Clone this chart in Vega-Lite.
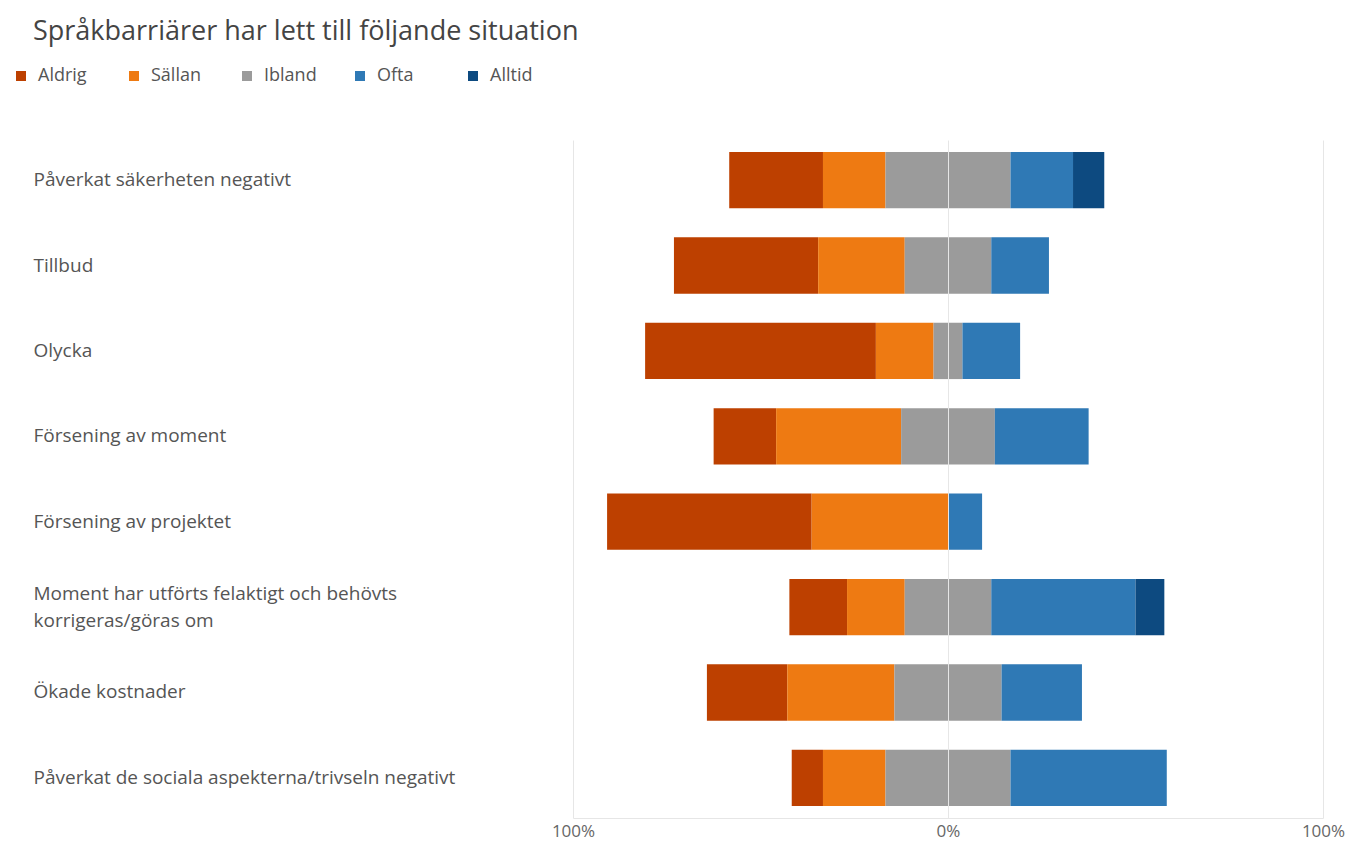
{
  "$schema": "https://vega.github.io/schema/vega-lite/v6.json",
  "width": 750,
  "height": 678,
  "autosize": "none",
  "padding": {"left": 573, "top": 140, "right": 27, "bottom": 27},
  "background": "white",
  "config": {"view": {"stroke": null}},
  "title": {
    "text": "Språkbarriärer har lett till följande situation",
    "anchor": "start",
    "frame": "group",
    "dx": -540,
    "offset": 21,
    "fontSize": 27,
    "font": "Open Sans",
    "fontWeight": "normal",
    "color": "#444444"
  },
  "data": {
    "values": [
      {"q": "Påverkat säkerheten negativt", "resp": "Aldrig", "code": 1, "pct": -25.0},
      {"q": "Påverkat säkerheten negativt", "resp": "Sällan", "code": 2, "pct": -16.67},
      {"q": "Påverkat säkerheten negativt", "resp": "Ibland", "code": 3, "pct": -16.67},
      {"q": "Påverkat säkerheten negativt", "resp": "Ibland", "code": 3, "pct": 16.67},
      {"q": "Påverkat säkerheten negativt", "resp": "Ofta", "code": 4, "pct": 16.67},
      {"q": "Påverkat säkerheten negativt", "resp": "Alltid", "code": 5, "pct": 8.33},
      {"q": "Tillbud", "resp": "Aldrig", "code": 1, "pct": -38.46},
      {"q": "Tillbud", "resp": "Sällan", "code": 2, "pct": -23.08},
      {"q": "Tillbud", "resp": "Ibland", "code": 3, "pct": -11.54},
      {"q": "Tillbud", "resp": "Ibland", "code": 3, "pct": 11.54},
      {"q": "Tillbud", "resp": "Ofta", "code": 4, "pct": 15.38},
      {"q": "Olycka", "resp": "Aldrig", "code": 1, "pct": -61.54},
      {"q": "Olycka", "resp": "Sällan", "code": 2, "pct": -15.38},
      {"q": "Olycka", "resp": "Ibland", "code": 3, "pct": -3.85},
      {"q": "Olycka", "resp": "Ibland", "code": 3, "pct": 3.85},
      {"q": "Olycka", "resp": "Ofta", "code": 4, "pct": 15.38},
      {"q": "Försening av moment", "resp": "Aldrig", "code": 1, "pct": -16.67},
      {"q": "Försening av moment", "resp": "Sällan", "code": 2, "pct": -33.33},
      {"q": "Försening av moment", "resp": "Ibland", "code": 3, "pct": -12.5},
      {"q": "Försening av moment", "resp": "Ibland", "code": 3, "pct": 12.5},
      {"q": "Försening av moment", "resp": "Ofta", "code": 4, "pct": 25.0},
      {"q": "Försening av projektet", "resp": "Aldrig", "code": 1, "pct": -54.55},
      {"q": "Försening av projektet", "resp": "Sällan", "code": 2, "pct": -36.36},
      {"q": "Försening av projektet", "resp": "Ofta", "code": 4, "pct": 9.09},
      {"q": "Moment har utförts felaktigt och behövts|korrigeras/göras om", "resp": "Aldrig", "code": 1, "pct": -15.38},
      {"q": "Moment har utförts felaktigt och behövts|korrigeras/göras om", "resp": "Sällan", "code": 2, "pct": -15.38},
      {"q": "Moment har utförts felaktigt och behövts|korrigeras/göras om", "resp": "Ibland", "code": 3, "pct": -11.54},
      {"q": "Moment har utförts felaktigt och behövts|korrigeras/göras om", "resp": "Ibland", "code": 3, "pct": 11.54},
      {"q": "Moment har utförts felaktigt och behövts|korrigeras/göras om", "resp": "Ofta", "code": 4, "pct": 38.46},
      {"q": "Moment har utförts felaktigt och behövts|korrigeras/göras om", "resp": "Alltid", "code": 5, "pct": 7.69},
      {"q": "Ökade kostnader", "resp": "Aldrig", "code": 1, "pct": -21.43},
      {"q": "Ökade kostnader", "resp": "Sällan", "code": 2, "pct": -28.57},
      {"q": "Ökade kostnader", "resp": "Ibland", "code": 3, "pct": -14.29},
      {"q": "Ökade kostnader", "resp": "Ibland", "code": 3, "pct": 14.29},
      {"q": "Ökade kostnader", "resp": "Ofta", "code": 4, "pct": 21.43},
      {"q": "Påverkat de sociala aspekterna/trivseln negativt", "resp": "Aldrig", "code": 1, "pct": -8.33},
      {"q": "Påverkat de sociala aspekterna/trivseln negativt", "resp": "Sällan", "code": 2, "pct": -16.67},
      {"q": "Påverkat de sociala aspekterna/trivseln negativt", "resp": "Ibland", "code": 3, "pct": -16.67},
      {"q": "Påverkat de sociala aspekterna/trivseln negativt", "resp": "Ibland", "code": 3, "pct": 16.67},
      {"q": "Påverkat de sociala aspekterna/trivseln negativt", "resp": "Ofta", "code": 4, "pct": 41.67}
    ]
  },
  "encoding": {
    "y": {
      "field": "q",
      "type": "nominal",
      "sort": [
        "Påverkat säkerheten negativt",
        "Tillbud",
        "Olycka",
        "Försening av moment",
        "Försening av projektet",
        "Moment har utförts felaktigt och behövts|korrigeras/göras om",
        "Ökade kostnader",
        "Påverkat de sociala aspekterna/trivseln negativt"
      ],
      "scale": {"paddingInner": 0.34, "paddingOuter": 0.14},
      "axis": {
        "title": null,
        "domain": false,
        "ticks": false,
        "grid": false,
        "labelAlign": "left",
        "labelPadding": 540,
        "labelLimit": 530,
        "labelFontSize": 19,
        "labelFont": "Open Sans",
        "labelColor": "#555555",
        "labelLineHeight": 27,
        "labelOffset": {"condition": {"test": "indexof(datum.value, '|') >= 0", "value": -13}, "value": 0},
        "labelExpr": "split(datum.label, '|')"
      }
    },
    "x": {
      "field": "pct",
      "type": "quantitative",
      "scale": {"domain": [-100, 100]},
      "axis": {
        "title": null,
        "values": [-100, 0, 100],
        "labelExpr": "abs(datum.value) + '%'",
        "labelFlush": false,
        "grid": true,
        "gridColor": "#e6e6e6",
        "domainColor": "#e6e6e6",
        "ticks": false,
        "labelFontSize": 17,
        "labelFont": "Open Sans",
        "labelColor": "#666666",
        "labelPadding": 5,
        "zindex": 1
      }
    },
    "color": {
      "field": "resp",
      "type": "nominal",
      "scale": {
        "domain": ["Aldrig", "Sällan", "Ibland", "Ofta", "Alltid"],
        "range": ["#BD4000", "#EE7A12", "#9B9B9B", "#2F79B5", "#0D4A80"]
      },
      "legend": {
        "title": null,
        "orient": "none",
        "legendX": -561,
        "legendY": -73,
        "direction": "horizontal",
        "symbolType": "square",
        "symbolSize": 100,
        "symbolStrokeWidth": 0,
        "labelFontSize": 18,
        "labelFont": "Open Sans",
        "labelColor": "#555555",
        "labelOffset": 8,
        "gridAlign": "all",
        "columnPadding": 34
      }
    }
  },
  "layer": [
    {
      "transform": [{"filter": "datum.pct < 0"}],
      "mark": {"type": "bar"},
      "encoding": {"order": {"field": "code", "type": "quantitative", "sort": "descending"}}
    },
    {
      "transform": [{"filter": "datum.pct > 0"}],
      "mark": {"type": "bar"},
      "encoding": {"order": {"field": "code", "type": "quantitative", "sort": "ascending"}}
    }
  ]
}
